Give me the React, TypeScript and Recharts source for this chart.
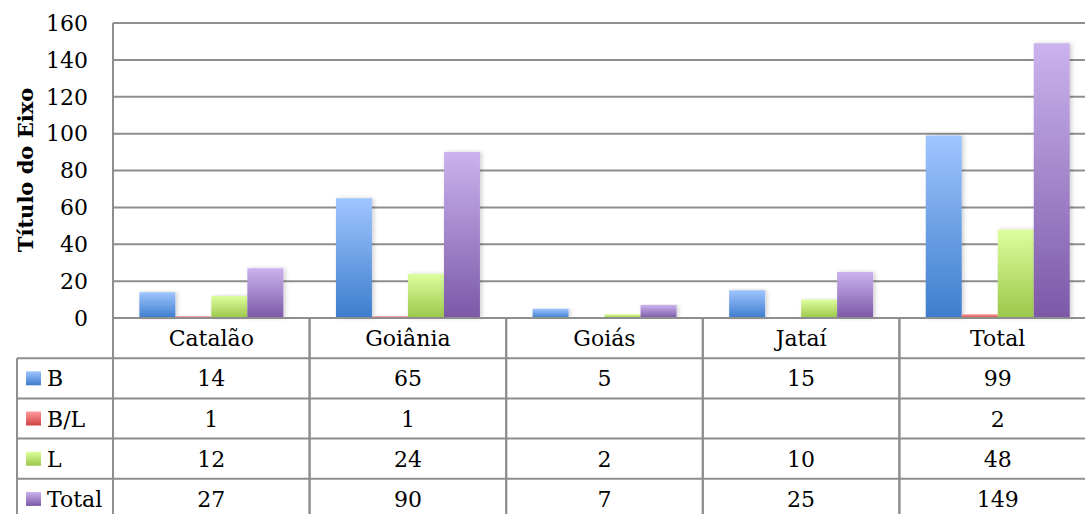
import React from 'react';
import { BarChart, Bar, XAxis, YAxis, CartesianGrid } from 'recharts';

// Chart values
const categories = ['Catalão', 'Goiânia', 'Goiás', 'Jataí', 'Total'];
const valuesB = [14, 65, 5, 15, 99];
const valuesBL: (number | null)[] = [1, 1, null, null, 2];
const valuesL = [12, 24, 2, 10, 48];
const valuesTotal = [27, 90, 7, 25, 149];
const yTicks = [0, 20, 40, 60, 80, 100, 120, 140, 160];

const series = [
  { key: 'B', values: valuesB, top: '#9fc5ff', bottom: '#3d7dcc' },
  { key: 'B/L', values: valuesBL, top: '#ff9c9c', bottom: '#cf4343' },
  { key: 'L', values: valuesL, top: '#defe9f', bottom: '#9bc749' },
  { key: 'Total', values: valuesTotal, top: '#cab3ee', bottom: '#7c58a7' },
];

const data = categories.map((name, i) => {
  const row: Record<string, any> = { name };
  series.forEach((s) => {
    row[s.key] = s.values[i];
  });
  return row;
});

// layout
const CHART_W = 1100;
const CHART_H = 519;
const LEFT = 113;
const RIGHT_MARGIN = 4;
const TOP = 23;
const TABLE_H = 201;
const ROW_H = TABLE_H / 5;
const BAND = (CHART_W - LEFT - RIGHT_MARGIN) / categories.length;
const LEGEND_X = 17;
const LINE = '#8e8e8e';
const FONT = 'DejaVu Serif';
const TABLE_FONT = 22;

const gradId = (i: number) => `grad-${i}`;

const TableTick = (props: any) => {
  const { x, y, payload, index } = props;
  const i = categories.indexOf(payload.value);
  const half = BAND / 2;
  const x0 = x - half;
  const x1 = x + half;
  const cells = [payload.value, ...series.map((s) => s.values[i])];

  return (
    <g>
      {/* vertical borders */}
      <line x1={x0} y1={y} x2={x0} y2={y + TABLE_H} stroke={LINE} strokeWidth={2} />
      <line x1={x1} y1={y} x2={x1} y2={y + TABLE_H} stroke={LINE} strokeWidth={2} />
      {[1, 2, 3, 4, 5].map((r) => (
        <line key={r} x1={x0} y1={y + r * ROW_H} x2={x1} y2={y + r * ROW_H} stroke={LINE} strokeWidth={2} />
      ))}
      {cells.map((c, r) => (
        <text
          key={r}
          x={x}
          y={y + r * ROW_H + ROW_H / 2 + 8}
          textAnchor="middle"
          fontSize={TABLE_FONT}
          fontFamily={FONT}
          fill="#000"
        >
          {c == null ? '' : String(c)}
        </text>
      ))}
      {index === 0 && (
        <g>
          <line x1={LEGEND_X} y1={y + ROW_H} x2={LEGEND_X} y2={y + TABLE_H} stroke={LINE} strokeWidth={2} />
          {[1, 2, 3, 4, 5].map((r) => (
            <line key={r} x1={LEGEND_X} y1={y + r * ROW_H} x2={x0} y2={y + r * ROW_H} stroke={LINE} strokeWidth={2} />
          ))}
          {series.map((s, k) => {
            const cy = y + (k + 1) * ROW_H + ROW_H / 2;
            return (
              <g key={s.key}>
                <rect x={26} y={cy - 7} width={15} height={14} fill={`url(#${gradId(k)})`} />
                <text x={47} y={cy + 8} fontSize={TABLE_FONT} fontFamily={FONT} fill="#000">
                  {s.key}
                </text>
              </g>
            );
          })}
        </g>
      )}
    </g>
  );
};

const AxisTitle = () => (
  <text
    transform="translate(33,170) rotate(-90)"
    textAnchor="middle"
    fontSize={21}
    fontWeight="bold"
    fontFamily={FONT}
    fill="#000"
  >
    Título do Eixo
  </text>
);

export default function App() {
  return (
    <div
      style={{
        position: 'absolute',
        left: 0,
        top: 0,
        width: 1085,
        height: 514,
        overflow: 'hidden',
        background: '#fff',
      }}
    >
      <BarChart
        width={CHART_W}
        height={CHART_H}
        data={data}
        margin={{ top: TOP, right: RIGHT_MARGIN, left: 0, bottom: 0 }}
        barCategoryGap="13.4%"
        barGap={0}
      >
        <defs>
          {series.map((s, k) => (
            <linearGradient key={s.key} id={gradId(k)} x1="0" y1="0" x2="0" y2="1">
              <stop offset="0%" stopColor={s.top} />
              <stop offset="100%" stopColor={s.bottom} />
            </linearGradient>
          ))}
          <filter id="barShadow" x="-20%" y="-5%" width="150%" height="110%">
            <feDropShadow dx="2" dy="0" stdDeviation="2" floodColor="#000" floodOpacity="0.18" />
          </filter>
        </defs>
        <CartesianGrid vertical={false} stroke={LINE} strokeWidth={2} />
        <XAxis
          dataKey="name"
          height={TABLE_H}
          interval={0}
          tickLine={false}
          tickSize={0}
          tickMargin={0}
          axisLine={{ stroke: LINE, strokeWidth: 2 }}
          tick={<TableTick />}
        />
        <YAxis
          width={LEFT}
          domain={[0, 160]}
          ticks={yTicks}
          interval={0}
          tickLine={false}
          tickSize={0}
          tickMargin={25}
          axisLine={{ stroke: LINE, strokeWidth: 2 }}
          tick={{ fontSize: 22, fontFamily: FONT, fill: '#000' }}
          label={<AxisTitle />}
        />
        {series.map((s, k) => (
          <Bar
            key={s.key}
            dataKey={s.key}
            fill={`url(#${gradId(k)})`}
            filter="url(#barShadow)"
            isAnimationActive={false}
          />
        ))}
      </BarChart>
    </div>
  );
}
